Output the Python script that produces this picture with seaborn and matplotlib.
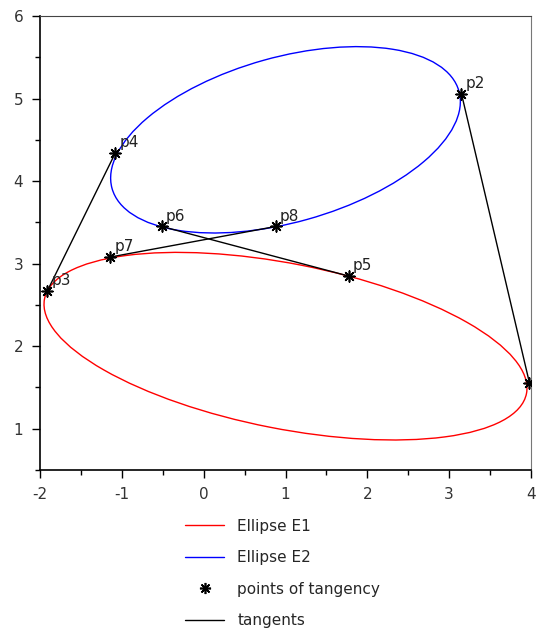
import matplotlib
matplotlib.use('Agg')
import matplotlib.pyplot as plt
from matplotlib.patches import Ellipse
from matplotlib.lines import Line2D
import seaborn as sns
import pandas as pd

# ellipses: centre, semi-axes, rotation (degrees)
ellipse_names = ['Ellipse E1', 'Ellipse E2']
ellipse_cx = [1.0, 1.0]
ellipse_cy = [2.0, 4.5]
ellipse_a = [3.0, 2.2]
ellipse_b = [1.0, 1.0]
ellipse_angle = [-11.0, 15.5]
ellipse_colors = ['red', 'blue']

# points of tangency
point_names = ['p1', 'p2', 'p3', 'p4', 'p5', 'p6', 'p7', 'p8']
point_x = [3.98, 3.15, -1.91, -1.08, 1.77, -0.51, -1.14, 0.88]
point_y = [1.56, 5.06, 2.67, 4.34, 2.85, 3.45, 3.08, 3.45]
# p1's label falls outside the frame in the original, so it is not shown
shown_labels = ['p2', 'p3', 'p4', 'p5', 'p6', 'p7', 'p8']

# tangents join pairs of points
tangent_pairs = [('p3', 'p4'), ('p1', 'p2'), ('p7', 'p8'), ('p6', 'p5')]

sns.set_style('ticks')
plt.rcParams['font.family'] = ['DejaVu Sans']
plt.rcParams['axes.unicode_minus'] = False

pts = pd.DataFrame({'name': point_names, 'x': point_x, 'y': point_y})
lookup = pts.set_index('name')
rows = []
for k, (p, q) in enumerate(tangent_pairs):
    for n in (p, q):
        rows.append({'seg': k, 'x': lookup.loc[n, 'x'], 'y': lookup.loc[n, 'y']})
tangents = pd.DataFrame(rows)

fig = plt.figure(figsize=(5.37, 6.32), dpi=100)
ax = fig.add_axes([40 / 537, 1 - 470 / 632, 491 / 537, 454 / 632])

for i in range(len(ellipse_names)):
    ax.add_patch(Ellipse((ellipse_cx[i], ellipse_cy[i]), 2 * ellipse_a[i], 2 * ellipse_b[i],
                         angle=ellipse_angle[i], fill=False, edgecolor=ellipse_colors[i], lw=1.0))

sns.lineplot(data=tangents, x='x', y='y', units='seg', estimator=None, sort=False,
             color='black', lw=1.0, ax=ax)
star = (8, 2, 0)
sns.scatterplot(data=pts, x='x', y='y', marker=star, color='black', s=60,
                linewidth=1.2, edgecolor='black', ax=ax, zorder=5)
for _, r in pts[pts['name'].isin(shown_labels)].iterrows():
    ax.annotate(r['name'], (r['x'], r['y']), xytext=(3, 4), textcoords='offset points',
                fontsize=11, color='#222222')

ax.set_xlim(-2, 4)
ax.set_ylim(0.5, 6)
ax.set_xticks(range(-2, 5))
ax.set_yticks(range(1, 7))
ax.set_xticks([-1.5, -0.5, 0.5, 1.5, 2.5, 3.5], minor=True)
ax.set_yticks([0.5, 1.5, 2.5, 3.5, 4.5, 5.5], minor=True)
ax.tick_params(which='both', direction='out', length=6, width=1, colors='black',
               labelsize=11, labelcolor='#333333', pad=6)
ax.tick_params(which='minor', length=3.5)
ax.set_xlabel('')
ax.set_ylabel('')
for s in ['left', 'bottom']:
    ax.spines[s].set_color('black')
    ax.spines[s].set_linewidth(1.2)
ax.spines['top'].set_color('#444444')
ax.spines['right'].set_color('#777777')

handles = [
    Line2D([], [], color='red', lw=1.0),
    Line2D([], [], color='blue', lw=1.0),
    Line2D([], [], color='black', lw=0, marker=star, markersize=8, markeredgewidth=1.2),
    Line2D([], [], color='black', lw=1.0),
]
labels = ['Ellipse E1', 'Ellipse E2', 'points of tangency', 'tangents']
fig.legend(handles, labels, loc='upper left', bbox_to_anchor=(177 / 537, 1 - 511 / 632),
           frameon=False, fontsize=11, handlelength=2.6, handletextpad=0.85,
           labelspacing=1.08, borderpad=0)

fig.savefig('out.png', dpi=100)
